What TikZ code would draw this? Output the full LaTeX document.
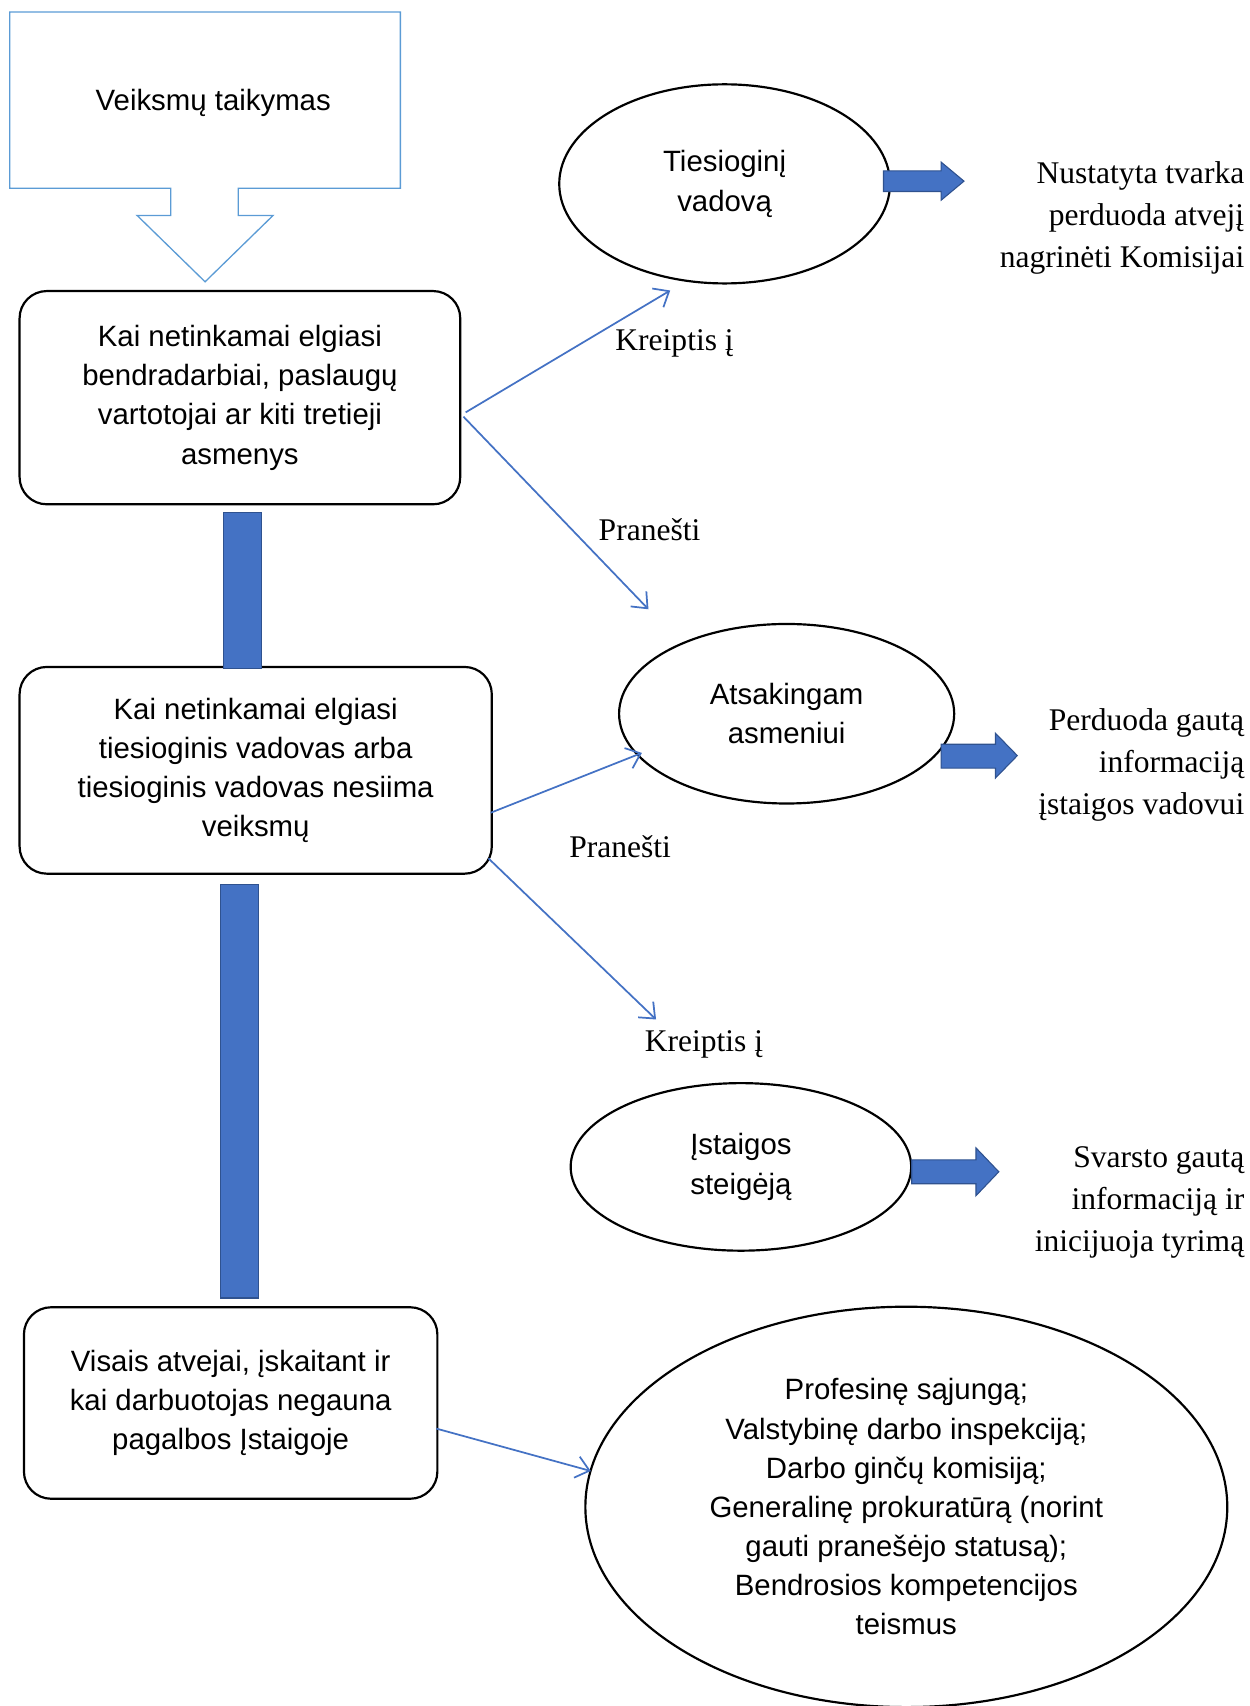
\documentclass[tikz,border=0pt]{standalone}
\usepackage{fontspec}
\setmainfont{Liberation Serif}
\setsansfont{Liberation Sans}
\usetikzlibrary{shapes.geometric,arrows.meta}
\newcommand{\dezfont}{\sffamily\fontsize{13.5}{18}\selectfont}
\newcommand{\sonfont}{\rmfamily\fontsize{14.5}{19.3}\selectfont}

\begin{document}
\begin{tikzpicture}[x=0.5pt,y=-0.5pt,
  dezute/.style={draw=black,line width=1pt,rounded corners=12.5pt,align=center,font=\dezfont,inner sep=0pt},
  ovalas/.style={draw=black,line width=1pt,ellipse,align=center,font=\dezfont,inner sep=0pt},
  paaiskinimas/.style={font=\sonfont,align=right,anchor=east,inner sep=0pt},
  etikete/.style={font=\sonfont,inner sep=0pt},
  plona/.style={draw=mel,line width=0.8pt,-{Straight Barb[length=6pt,width=10pt]}},
  storoji/.style={fill=mel,draw=melt,line width=0.5pt}]
\definecolor{mel}{HTML}{4472C4}
\definecolor{melt}{HTML}{2F528F}
\definecolor{sviesi}{HTML}{5B9BD5}
\useasboundingbox (0,0) rectangle (1148,1568);

% virsutinis langelis su rodykle
\draw[sviesi,line width=0.6pt] (9,11) -- (368,11) -- (368,173) -- (219,173) -- (219,198) -- (251,198) -- (188.5,259) -- (126,198) -- (157,198) -- (157,173) -- (9,173) -- cycle;
\node[font=\dezfont] (veiksmai) at (196,95) {Veiksmų taikymas};

% kairieji langeliai
\node[dezute,minimum width=202.5pt,minimum height=98pt] (bendradarbiai) at (220.5,365.5) {Kai netinkamai elgiasi\\bendradarbiai, paslaugų\\vartotojai ar kiti tretieji\\asmenys};
\node[dezute,minimum width=217pt,minimum height=95pt] (vadovas) at (235,708) {Kai netinkamai elgiasi\\tiesioginis vadovas arba\\tiesioginis vadovas nesiima\\veiksmų};
\node[dezute,minimum width=190pt,minimum height=88pt] (visais) at (212,1289.5) {Visais atvejai, įskaitant ir\\kai darbuotojas negauna\\pagalbos Įstaigoje};

\filldraw[storoji] (205,471) rectangle (240,614);
\filldraw[storoji] (203,813) rectangle (238,1193);

% ovalai
\node[ovalas,minimum width=152pt,minimum height=91.5pt] (tiesiog) at (666,169) {Tiesioginį\\vadovą};
\node[ovalas,minimum width=154pt,minimum height=82.5pt] (atsak) at (723,656) {Atsakingam\\asmeniui};
\node[ovalas,minimum width=156.5pt,minimum height=77pt] (steigej) at (681,1072.5) {Įstaigos\\steigėją};
\node[ovalas,minimum width=295pt,minimum height=184pt] (kitos) at (833,1385) {Profesinę sąjungą;\\Valstybinę darbo inspekciją;\\Darbo ginčų komisiją;\\Generalinę prokuratūrą (norint\\gauti pranešėjo statusą);\\Bendrosios kompetencijos\\teismus};

% desinieji tekstai
\node[paaiskinimas] (komisija) at (1144,200.5) {Nustatyta tvarka\\perduoda atvejį\\nagrinėti Komisijai};
\node[paaiskinimas] (perduoda) at (1144,703) {Perduoda gautą\\informaciją\\įstaigos vadovui};
\node[paaiskinimas] (svarsto) at (1144,1105) {Svarsto gautą\\informaciją ir\\inicijuoja tyrimą};

\filldraw[storoji] (812,157) -- (865,157) -- (865,149) -- (886,166.5) -- (865,184) -- (865,176) -- (812,176) -- cycle;
\filldraw[storoji] (865,684) -- (915,684) -- (915,674) -- (935,694.5) -- (915,715) -- (915,706) -- (865,706) -- cycle;
\filldraw[storoji] (838,1066) -- (897,1066) -- (897,1055) -- (918,1077) -- (897,1099) -- (897,1088) -- (838,1088) -- cycle;

% plonos rodykles
\coordinate (g1) at (616,267);
\coordinate (g2) at (596,560);
\coordinate (g3) at (590,692);
\coordinate (g4) at (603,937);
\coordinate (g5) at (543,1352);
\draw[plona] ([xshift=2pt,yshift=-6.75pt]bendradarbiai.east) -- (g1);
\draw[plona] ([xshift=1pt,yshift=-8.75pt]bendradarbiai.east) -- (g2);
\draw[plona] ([xshift=-1pt,yshift=-19.5pt]vadovas.east) -- (g3);
\draw[plona] ([xshift=-2pt,yshift=-40.5pt]vadovas.east) -- (g4);
\draw[plona] ([xshift=-1pt,yshift=-11.75pt]visais.east) -- (g5);

\node[etikete] (kreip1) at (620,316) {Kreiptis į};
\node[etikete] (pran1) at (597,487) {Pranešti};
\node[etikete] (pran2) at (570,778) {Pranešti};
\node[etikete] (kreip2) at (647,960) {Kreiptis į};
\end{tikzpicture}
\end{document}
